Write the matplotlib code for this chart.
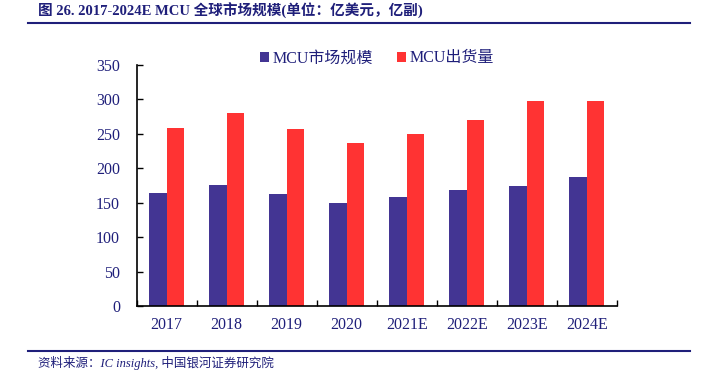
import matplotlib
matplotlib.use("Agg")
import matplotlib.pyplot as plt
import numpy as np

categories = ["2017", "2018", "2019", "2020", "2021E", "2022E", "2023E", "2024E"]
market_size = [164, 176, 162, 149, 158, 169, 174, 188]
shipments = [258, 281, 257, 236, 250, 270, 297, 297]
yticks = [0, 50, 100, 150, 200, 250, 300, 350]

navy = "#1F1F7A"
blue = "#433593"
red = "#FF3333"
fam = ["Liberation Serif", "Noto Sans CJK SC"]

fig = plt.figure(figsize=(7.11, 3.75), dpi=100)
ax = fig.add_axes([0.1923, 0.184, 0.675, 0.6427])

x = np.arange(len(categories))
w = 0.29
ax.bar(x - w / 2, market_size, width=w, color=blue, label="MCU市场规模")
ax.bar(x + w / 2, shipments, width=w, color=red, label="MCU出货量")

ax.set_xlim(-0.5, len(categories) - 0.5)
ax.set_ylim(0, 350)
ax.set_yticks(yticks)
ax.set_yticklabels([str(v) for v in yticks], fontfamily=fam, fontsize=11.5, color=navy)
ax.set_xticks(x)
ax.set_xticklabels(categories, fontfamily=fam, fontsize=11.5, color=navy)
ax.set_xticks(np.arange(len(categories) + 1) - 0.5, minor=True)
ax.tick_params(axis="x", which="major", length=0, pad=8)
ax.tick_params(axis="x", which="minor", length=4, direction="in", width=1)
ax.tick_params(axis="y", length=4, direction="in", width=1, pad=12)
for s in ["top", "right"]:
    ax.spines[s].set_visible(False)
for s in ["left", "bottom"]:
    ax.spines[s].set_color("black")
    ax.spines[s].set_linewidth(1.2)

leg = ax.legend(loc="upper center", bbox_to_anchor=(0.5, 1.12), ncol=2, frameon=False,
                prop={"family": fam, "size": 11.5}, handlelength=0.6, handleheight=0.6,
                handletextpad=0.2, columnspacing=1.5)
for t in leg.get_texts():
    t.set_color(navy)

fig.text(0.053, 0.972, "图 26. 2017-2024E MCU 全球市场规模(单位：亿美元，亿副)",
         fontfamily=fam, fontsize=10.5, fontweight="bold", color=navy, va="center", ha="left")
fig.add_artist(plt.Line2D([0.04, 0.97], [0.94, 0.94], color=navy, linewidth=1.5))
fig.add_artist(plt.Line2D([0.04, 0.97], [0.064, 0.064], color=navy, linewidth=1.5))
fig.text(0.053, 0.032, "资料来源：IC insights, 中国银河证券研究院", fontfamily=fam,
         fontsize=9, style="italic", color=navy, va="center", ha="left")

fig.savefig("out.png", dpi=100)
